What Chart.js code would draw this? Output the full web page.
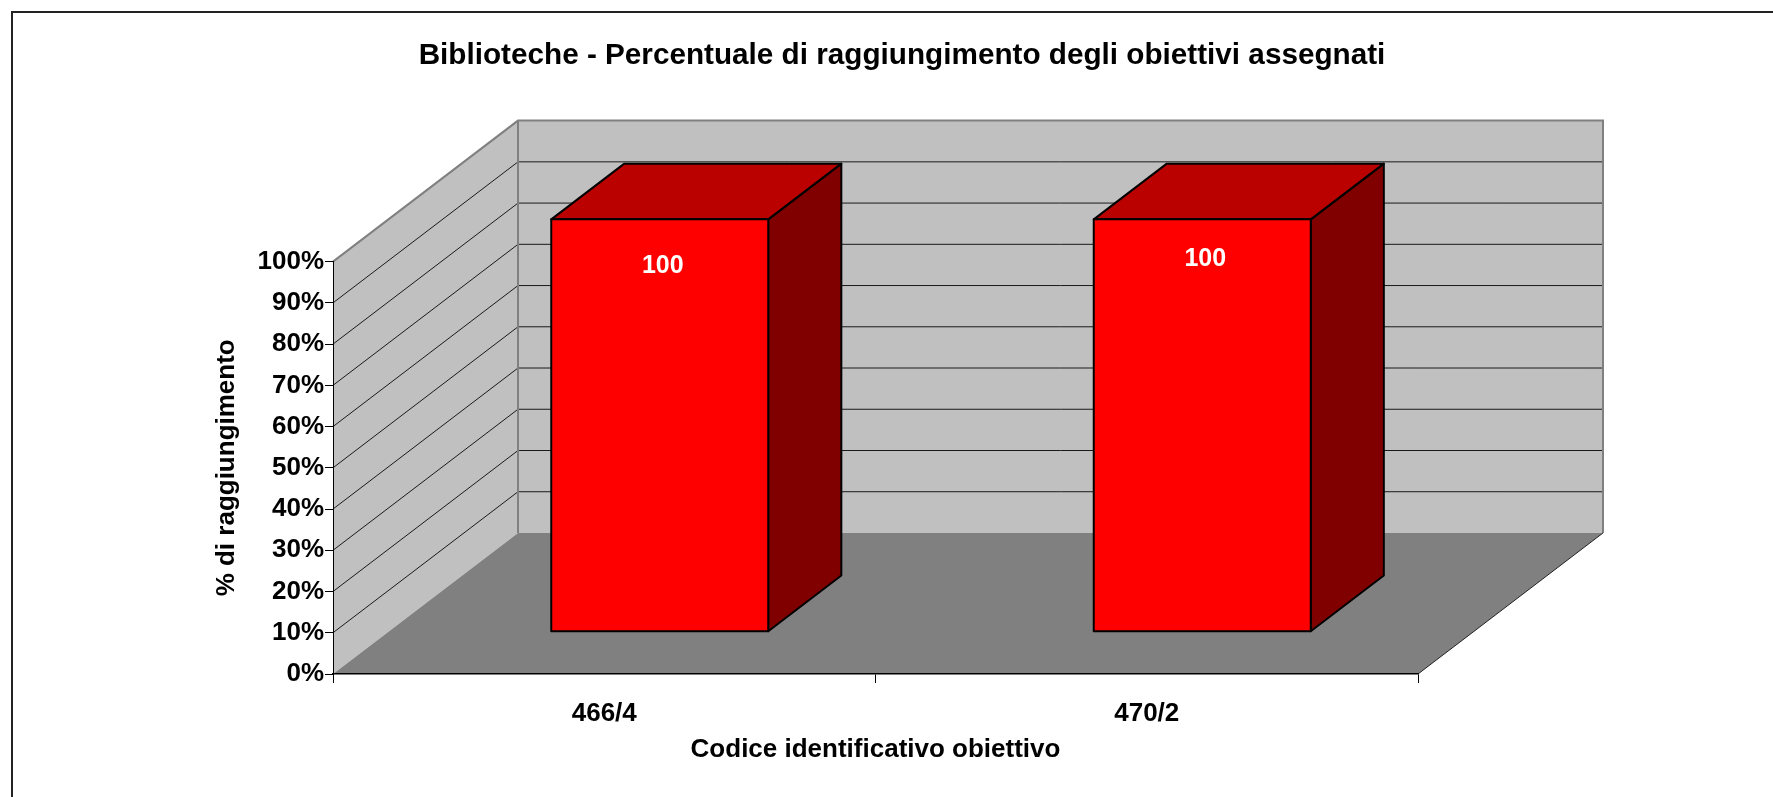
<!DOCTYPE html>
<html lang="it">
<head>
<meta charset="UTF-8">
<title>Biblioteche - obiettivi</title>
<script src="https://cdn.jsdelivr.net/npm/chart.js@4.4.1/dist/chart.umd.min.js"></script>
<style>
  html, body { margin: 0; padding: 0; background: #fff; }
  canvas { display: block; }
</style>
</head>
<body>
<canvas id="grafico" width="1773" height="797"></canvas>
<script>
  // dati
  const titolo = "Biblioteche - Percentuale di raggiungimento degli obiettivi assegnati";
  const categorie = ["466/4", "470/2"];
  const percentuali = [100, 100];
  const etichetteValori = ["100", "100"];
  const valoriAsseY = [0, 10, 20, 30, 40, 50, 60, 70, 80, 90, 100];
  const etichetteAsseY = ["0%", "10%", "20%", "30%", "40%", "50%", "60%", "70%", "80%", "90%", "100%"];

  const FONT = "'Liberation Sans', Arial, Helvetica, sans-serif";
  const PROF_X = 0.1705;   // profondita 3D in frazione della larghezza dell'area
  const PROF_Y = 0.342;    // profondita 3D in frazione dell'altezza dell'area
  const BARRA_DA = 0.3, BARRA_A = 0.695;
  const scostamentoEtichette = [47, 40];

  function profondita(chart) {
    const a = chart.chartArea;
    return { dx: (a.right - a.left) * PROF_X, dy: -(a.bottom - a.top) * PROF_Y };
  }

  function poligono(ctx, punti, colore) {
    ctx.beginPath();
    ctx.moveTo(punti[0][0], punti[0][1]);
    for (let i = 1; i < punti.length; i++) ctx.lineTo(punti[i][0], punti[i][1]);
    ctx.closePath();
    ctx.fillStyle = colore;
    ctx.fill();
    ctx.stroke();
  }

  const pareti = {
    id: "pareti",
    beforeDraw(chart) {
      const { ctx, chartArea: a } = chart;
      const y = chart.scales.y;
      const { dx, dy } = profondita(chart);
      const alto = y.getPixelForValue(y.max), base = y.getPixelForValue(y.min);
      ctx.save();
      // cornice
      ctx.strokeStyle = "#222";
      ctx.lineWidth = 2;
      ctx.strokeRect(12, 12, chart.width + 20, chart.height + 20);
      // parete laterale e di fondo
      ctx.fillStyle = "#c0c0c0";
      ctx.beginPath();
      ctx.moveTo(a.left, base);
      ctx.lineTo(a.left, alto);
      ctx.lineTo(a.left + dx, alto + dy);
      ctx.lineTo(a.left + dx, base + dy);
      ctx.closePath();
      ctx.fill();
      ctx.fillRect(a.left + dx, alto + dy, a.right - a.left, base - alto);
      // pavimento
      ctx.fillStyle = "#808080";
      ctx.beginPath();
      ctx.moveTo(a.left, base);
      ctx.lineTo(a.right, base);
      ctx.lineTo(a.right + dx, base + dy);
      ctx.lineTo(a.left + dx, base + dy);
      ctx.closePath();
      ctx.fill();
      // griglia
      ctx.strokeStyle = "#1a1a1a";
      ctx.lineWidth = 1;
      y.ticks.forEach(t => {
        if (t.value <= y.min || t.value >= y.max) return;
        const py = y.getPixelForValue(t.value);
        ctx.beginPath();
        ctx.moveTo(a.left, py);
        ctx.lineTo(a.left + dx, py + dy);
        ctx.lineTo(a.right + dx, py + dy);
        ctx.stroke();
      });
      // bordi delle pareti
      ctx.strokeStyle = "#808080";
      ctx.lineWidth = 2;
      ctx.beginPath();
      ctx.moveTo(a.left, alto);
      ctx.lineTo(a.left + dx, alto + dy);
      ctx.lineTo(a.right + dx, alto + dy);
      ctx.lineTo(a.right + dx, base + dy);
      ctx.moveTo(a.left + dx, alto + dy);
      ctx.lineTo(a.left + dx, base + dy);
      ctx.stroke();
      ctx.strokeStyle = "#222";
      ctx.lineWidth = 1;
      ctx.beginPath();
      ctx.moveTo(a.right, base);
      ctx.lineTo(a.right + dx, base + dy);
      ctx.stroke();
      ctx.restore();
    }
  };

  const barre3d = {
    id: "barre3d",
    afterDatasetsDraw(chart) {
      const ctx = chart.ctx;
      const { dx, dy } = profondita(chart);
      const ox = dx * BARRA_DA, oy = dy * BARRA_DA;
      const px = dx * (BARRA_A - BARRA_DA), py = dy * (BARRA_A - BARRA_DA);
      ctx.save();
      ctx.lineWidth = 2;
      ctx.strokeStyle = "#000";
      ctx.lineJoin = "round";
      chart.getDatasetMeta(0).data.forEach((barra, i) => {
        const p = barra.getProps(["x", "y", "base", "width"], true);
        const l = p.x - p.width / 2 + ox, r = p.x + p.width / 2 + ox;
        const t = p.y + oy, b = p.base + oy;
        poligono(ctx, [[r, t], [r + px, t + py], [r + px, b + py], [r, b]], "#800000");
        poligono(ctx, [[l, t], [l + px, t + py], [r + px, t + py], [r, t]], "#bb0000");
        poligono(ctx, [[l, t], [r, t], [r, b], [l, b]], "#ff0000");
        ctx.fillStyle = "#fff";
        ctx.font = "bold 25px " + FONT;
        ctx.textAlign = "center";
        ctx.textBaseline = "middle";
        ctx.fillText(etichetteValori[i], (l + r) / 2 + 3, t + scostamentoEtichette[i]);
      });
      ctx.restore();
    }
  };

  // il titolo di Excel e centrato sull'intero oggetto grafico
  const centraTitolo = {
    id: "centraTitolo",
    afterLayout(chart) {
      chart.titleBlock.left = 12;
      chart.titleBlock.right = 1792;
    }
  };

  const carattere = { family: FONT, size: 26, weight: "bold" };

  new Chart(document.getElementById("grafico"), {
    type: "bar",
    data: {
      labels: categorie,
      datasets: [{
        data: percentuali,
        backgroundColor: "rgba(0,0,0,0)",
        borderWidth: 0,
        categoryPercentage: 1,
        barPercentage: 0.4
      }]
    },
    options: {
      responsive: false,
      animation: false,
      events: [],
      layout: { padding: { left: 0, right: 355, top: 0, bottom: 0 } },
      plugins: {
        legend: { display: false },
        tooltip: { enabled: false },
        title: {
          display: true,
          text: titolo,
          color: "#000",
          font: { family: FONT, size: 29.7, weight: "bold" },
          padding: { top: 38, bottom: 188 }
        }
      },
      scales: {
        x: {
          offset: true,
          grid: { offset: true, drawOnChartArea: false, drawTicks: true, tickLength: 9, color: "#000" },
          border: { display: true, color: "#000", width: 1.5 },
          ticks: { color: "#000", font: carattere, padding: 15, maxRotation: 0 },
          title: {
            display: true,
            text: "Codice identificativo obiettivo",
            color: "#000",
            font: carattere,
            padding: { top: 0, bottom: 32 }
          },
          afterFit(s) { s.height = 123; }
        },
        y: {
          min: 0,
          max: 100,
          afterBuildTicks(s) { s.ticks = valoriAsseY.map(v => ({ value: v })); },
          grid: { drawOnChartArea: false, drawTicks: true, tickLength: 8, color: "#000" },
          border: { display: true, color: "#000", width: 1 },
          ticks: { color: "#000", font: carattere, padding: 1, callback: (v, i) => etichetteAsseY[i] },
          title: {
            display: true,
            text: "% di raggiungimento",
            color: "#000",
            font: carattere,
            padding: { top: 211, bottom: 0 }
          },
          afterFit(s) { s.width = 333; }
        }
      }
    },
    plugins: [pareti, barre3d, centraTitolo]
  });
</script>
</body>
</html>
